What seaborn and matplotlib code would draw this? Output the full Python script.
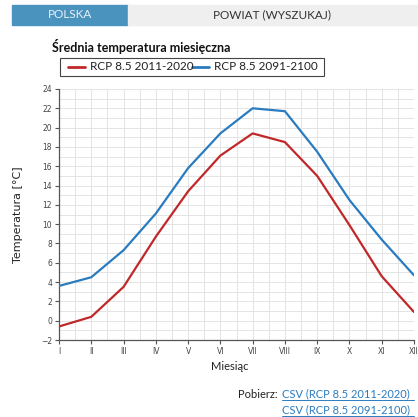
import matplotlib.pyplot as plt
import seaborn as sns
import pandas as pd
from matplotlib.patches import Rectangle
from matplotlib.lines import Line2D

plt.switch_backend('Agg')

months = ["I", "II", "III", "IV", "V", "VI", "VII", "VIII", "IX", "X", "XI", "XII"]
rcp_2011_2020 = [-0.6, 0.4, 3.5, 8.7, 13.4, 17.1, 19.4, 18.5, 15.0, 9.9, 4.6, 0.9]
rcp_2091_2100 = [3.6, 4.5, 7.3, 11.1, 15.8, 19.4, 22.0, 21.7, 17.5, 12.5, 8.4, 4.7]
series_names = ["RCP 8.5 2011-2020", "RCP 8.5 2091-2100"]
colors = ["#c0282a", "#2a7bbf"]

df = pd.DataFrame({
    "m": list(range(1, 13)) * 2,
    "t": rcp_2011_2020 + rcp_2091_2100,
    "s": [series_names[0]] * 12 + [series_names[1]] * 12,
})

sns.set_theme(style="white")
plt.rcParams['font.family'] = ['Lato', 'DejaVu Sans']

fig = plt.figure(figsize=(4.18, 4.17), dpi=100)
ax = fig.add_axes([59 / 418, 1 - 340 / 417, 355 / 418, 251 / 417])

# grid: minor every half month and every 1 degree
for v in [1 + i * 0.5 for i in range(23)]:
    ax.axvline(v, color="#e4e4e4", lw=0.7, zorder=0)
for v in range(-2, 25):
    ax.axhline(v, color="#e4e4e4", lw=0.7, zorder=0)

sns.lineplot(data=df, x="m", y="t", hue="s", palette=colors, linewidth=1.6,
             legend=False, ax=ax, zorder=3)

ax.set_xlim(1, 12)
ax.set_ylim(-2, 24)
ax.set_xticks(range(1, 13))
ax.set_xticklabels(months, fontsize=5.5, color="#444444", family="DejaVu Sans")
ax.set_yticks(range(-2, 25, 2))
ax.set_yticklabels([str(v) if v >= 0 else "\u22122" for v in range(-2, 25, 2)],
                   fontsize=5.5, color="#444444", family="DejaVu Sans")
ax.tick_params(axis="both", length=3, width=0.8, color="#555555", pad=2, direction="out")
ax.tick_params(axis="both", which="both", bottom=True, left=True)
for side in ["top", "right"]:
    ax.spines[side].set_visible(False)
for side in ["left", "bottom"]:
    ax.spines[side].set_color("#555555")
    ax.spines[side].set_linewidth(0.9)
ax.set_xlabel("")
ax.set_ylabel("")

fig.text(18 / 418, 1 - 215 / 417, "Temperatura [°C]", rotation=90, ha="center", va="center",
         fontsize=8, color="#222222", family="DejaVu Sans")
fig.text(230 / 418, 1 - 367 / 417, "Miesiąc", ha="center", va="center", fontsize=8, color="#222222")

# header tabs
fig.patches.append(Rectangle((12 / 418, 1 - 25 / 417), 116 / 418, 20 / 417,
                             transform=fig.transFigure, color="#4b93bf", zorder=0))
fig.patches.append(Rectangle((128 / 418, 1 - 25 / 417), 290 / 418, 20 / 417,
                             transform=fig.transFigure, color="#efefef", zorder=0))
fig.text(70 / 418, 1 - 15 / 417, "POLSKA", ha="center", va="center", fontsize=8.5, color="#e8f1f7")
fig.text(272 / 418, 1 - 15 / 417, "POWIAT (WYSZUKAJ)", ha="center", va="center", fontsize=8.5,
         color="#333333")

# title and legend
fig.text(52 / 418, 1 - 47 / 417, "Średnia temperatura miesięczna", ha="left", va="center",
         fontsize=9, fontweight="bold", color="#111111")
fig.patches.append(Rectangle((60 / 418, 1 - 76 / 417), 264 / 418, 18 / 417,
                             transform=fig.transFigure, fill=False, edgecolor="#444444", lw=0.8))
for x0, name, c in [(68, series_names[0], colors[0]), (192, series_names[1], colors[1])]:
    fig.lines.append(Line2D([x0 / 418, (x0 + 17) / 418], [1 - 67 / 417] * 2,
                            transform=fig.transFigure, color=c, lw=2))
    fig.text((x0 + 22) / 418, 1 - 67 / 417, name, ha="left", va="center", fontsize=8.5,
             color="#222222")

# download links
fig.text(280 / 418, 1 - 394 / 417, "Pobierz: ", ha="right", va="center", fontsize=8,
         color="#222222")
for y, name in [(394, series_names[0]), (410, series_names[1])]:
    fig.text(282 / 418, 1 - y / 417, f"CSV ({name})", ha="left", va="center", fontsize=8,
             color="#2a7bbf")
    fig.lines.append(Line2D([282 / 418, 414 / 418], [1 - (y + 6) / 417] * 2,
                            transform=fig.transFigure, color="#2a7bbf", lw=0.7))

fig.savefig("out.png", dpi=100, facecolor="white")
plt.close(fig)
